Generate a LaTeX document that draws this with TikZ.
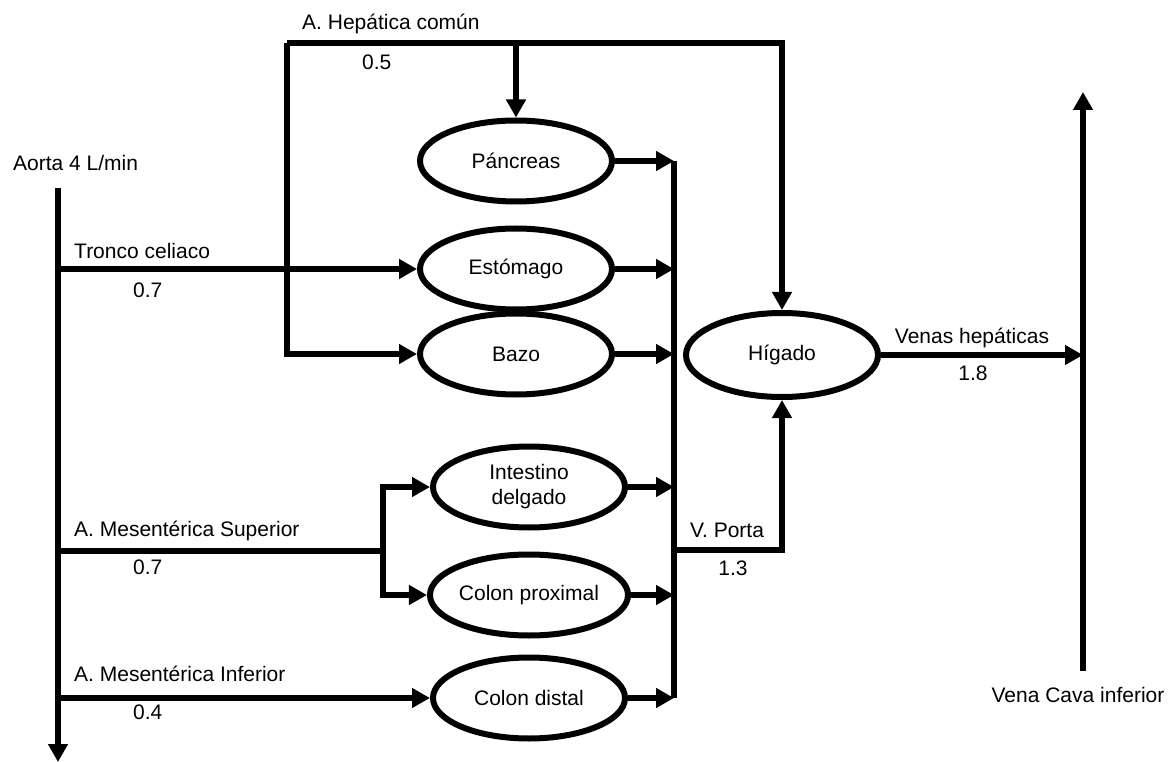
\documentclass[tikz,border=0pt]{standalone}
\usepackage{fontspec}
\setmainfont{Liberation Sans}
\usepackage{tikz}
\usetikzlibrary{shapes.geometric, arrows.meta}

\begin{document}
\begin{tikzpicture}[x=1pt,y=1pt,yscale=-1,xscale=1,
  font=\fontsize{21}{25}\selectfont,
  organ/.style={ellipse, draw, line width=6pt, inner sep=0pt, minimum width=192pt, minimum height=81pt, align=center},
  flow/.style={line width=6pt, -{Triangle[width=19pt,length=18pt]}},
  vessel/.style={line width=6pt},
  lbl/.style={inner sep=0pt, anchor=base west}]
\useasboundingbox (0,0) rectangle (1176,762);

% Organs
\node [organ] (pancreas)  at (516,161) {Páncreas};
\node [organ] (estomago)  at (516,269) {Estómago};
\node [organ] (bazo)      at (516,354) {Bazo};
\node [organ] (intestino) at (529,487) {Intestino\\delgado};
\node [organ] (colonprox) at (529,595) {Colon proximal};
\node [organ] (colondist) at (529,698) {Colon distal};
\node [organ, minimum height=84pt] (higado) at (782,355) {Hígado};

% Points of the vessels
\coordinate (aortaTop) at (58,188);
\coordinate (aortaBot) at (58,762);
\coordinate (tronco)   at (58,269);
\coordinate (hepTop)   at (287,43);
\coordinate (msup)     at (58,551);
\coordinate (msupFork) at (383,551);
\coordinate (minf)     at (58,698);
\coordinate (colTop)   at (674,161);
\coordinate (colBot)   at (674,698);
\coordinate (porta)    at (674,550);
\coordinate (cavaBot)  at (1083,671);
\coordinate (cavaTop)  at (1083,92);

% Aorta
\draw [flow] (aortaTop) -- (aortaBot);
% Tronco celiaco
\draw [flow] (tronco) -- (estomago.west);
% A. Hepatica comun
\draw [flow] (hepTop) |- (bazo.west);
\draw [flow] (hepTop) -| (higado.north);
\draw [flow] (pancreas.north |- hepTop) -- (pancreas.north);
% A. Mesenterica superior
\draw [vessel] (msup) -- (msupFork);
\draw [flow] (msupFork) |- (intestino.west);
\draw [flow] (msupFork) |- (colonprox.west);
% A. Mesenterica inferior
\draw [flow] (minf) -- (colondist.west);

% Venous return
\draw [vessel] (colTop) -- (colBot);
\foreach \o in {pancreas, estomago, bazo, intestino, colonprox, colondist}
  \draw [flow] (\o.east) -- (\o.east -| colTop);
\draw [flow] (porta) -| (higado.south);
\draw [flow] (higado.east) -- (higado.east -| cavaTop);
\draw [flow] (cavaBot) -- (cavaTop);

% Text Node
\node [lbl] (tAorta) at (13,170.5) {Aorta 4 L/min};
\node [lbl] (tTronco) at (74,258.5) {Tronco celiaco};
\node [lbl] (vTronco) at (133,297.5) {0.7};
\node [lbl] (tHep) at (302,29.5) {A. Hepática común};
\node [lbl] (vHep) at (362,69.5) {0.5};
\node [lbl] (tMsup) at (74,536.5) {A. Mesentérica Superior};
\node [lbl] (vMsup) at (133,574.5) {0.7};
\node [lbl] (tMinf) at (74,681.5) {A. Mesentérica Inferior};
\node [lbl] (vMinf) at (133,719.5) {0.4};
\node [lbl, anchor=base] (tPorta) at (727,537.5) {V. Porta};
\node [lbl, anchor=base] (vPorta) at (733,575.5) {1.3};
\node [lbl, anchor=base] (tVenas) at (972,343.5) {Venas hepáticas};
\node [lbl, anchor=base] (vVenas) at (973,380.5) {1.8};
\node [lbl, anchor=base] (tCava) at (1078,702.5) {Vena Cava inferior};

\end{tikzpicture}
\end{document}
